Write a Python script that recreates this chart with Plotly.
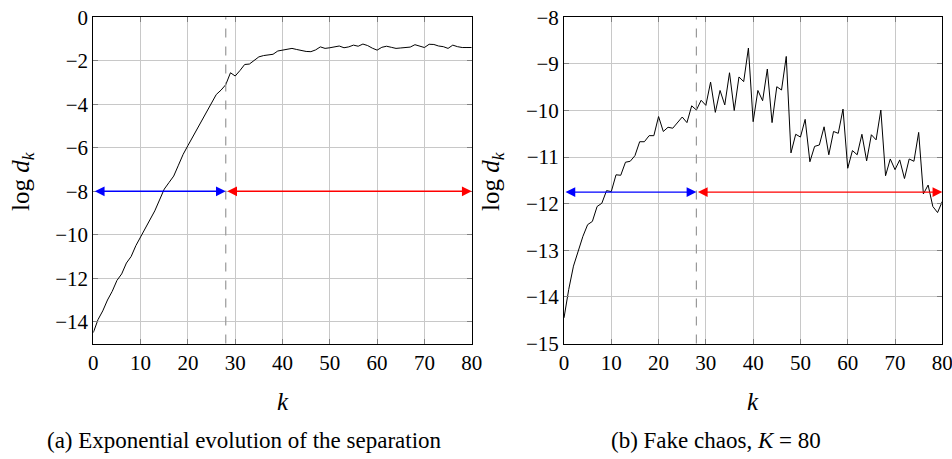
import plotly.graph_objects as go

# ---- data ----
k = list(range(81))
sep_a = [-14.5, -13.9, -13.5, -13.0, -12.6, -12.1, -11.8, -11.3, -11.0, -10.5,
         -10.1, -9.7, -9.3, -8.9, -8.4, -7.9, -7.6, -7.3, -6.8, -6.3,
         -5.9, -5.5, -5.1, -4.7, -4.3, -3.9, -3.55, -3.35, -3.1, -2.55,
         -2.7, -2.45, -2.17, -2.15, -2.0, -1.82, -1.76, -1.73, -1.70, -1.55,
         -1.50, -1.47, -1.43, -1.48, -1.53, -1.57, -1.58, -1.50, -1.36, -1.43,
         -1.40, -1.36, -1.32, -1.40, -1.36, -1.28, -1.33, -1.23, -1.30, -1.42,
         -1.51, -1.38, -1.33, -1.38, -1.43, -1.41, -1.40, -1.37, -1.26, -1.32,
         -1.39, -1.24, -1.25, -1.32, -1.35, -1.43, -1.28, -1.35, -1.39, -1.39,
         -1.39]
sep_b = [-14.45, -13.84, -13.34, -13.02, -12.70, -12.45, -12.38, -12.06, -11.99, -11.72,
         -11.74, -11.38, -11.39, -11.11, -11.09, -10.97, -10.67, -10.67, -10.54, -10.54,
         -10.13, -10.45, -10.36, -10.38, -10.26, -10.14, -10.26, -9.90, -9.99, -9.78,
         -9.89, -9.39, -10.04, -9.57, -9.88, -9.19, -10.0, -9.28, -9.38, -8.66,
         -10.24, -9.57, -9.79, -9.11, -10.26, -9.49, -9.56, -8.84, -10.91, -10.51,
         -10.57, -10.19, -11.1, -10.77, -10.74, -10.35, -10.95, -10.45, -10.49, -9.97,
         -11.24, -10.86, -10.95, -10.51, -11.08, -10.52, -10.63, -9.99, -11.40, -11.04,
         -11.27, -11.06, -11.46, -11.04, -11.09, -10.47, -11.79, -11.60, -12.06, -12.19,
         -11.95]
x_ticks = [0, 10, 20, 30, 40, 50, 60, 70, 80]
y_ticks_a = [0, -2, -4, -6, -8, -10, -12, -14]
y_ticks_b = [-8, -9, -10, -11, -12, -13, -14, -15]
k_split = 28
arrow_y_a = -8
arrow_y_b = -11.75
caption_a = "(a) Exponential evolution of the separation"
caption_b = "(b) Fake chaos, <i>K</i> = 80"

W, H = 952, 459
FONT = "Liberation Serif"

fig = go.Figure()
fig.add_trace(go.Scatter(x=k, y=sep_a, mode="lines", line=dict(color="black", width=1),
                         xaxis="x", yaxis="y", showlegend=False, hoverinfo="skip"))
fig.add_trace(go.Scatter(x=k, y=sep_b, mode="lines", line=dict(color="black", width=1),
                         xaxis="x2", yaxis="y2", showlegend=False, hoverinfo="skip"))

ax_common = dict(showline=True, linecolor="black", linewidth=1, mirror="ticks",
                 ticks="inside", ticklen=5, tickcolor="#808080", tickwidth=1,
                 showgrid=True, gridcolor="#c8c8c8", gridwidth=1, zeroline=False,
                 automargin=False, ticklabeloverflow="allow",
                 tickfont=dict(family=FONT, size=21, color="black"))

ydom = [1 - 343.5 / H, 1 - 17.3 / H]
fig.update_layout(
    width=W, height=H, margin=dict(l=0, r=0, t=0, b=0, autoexpand=False),
    plot_bgcolor="white", paper_bgcolor="white",
    xaxis=dict(domain=[93.3 / W, 471.7 / W], range=[0, 80], tickvals=x_ticks, anchor="y", **ax_common),
    yaxis=dict(domain=ydom, range=[-15, 0], tickvals=y_ticks_a, anchor="x", **ax_common),
    xaxis2=dict(domain=[564 / W, 942.3 / W], range=[0, 80], tickvals=x_ticks, anchor="y2", **ax_common),
    yaxis2=dict(domain=ydom, range=[-15, -8], tickvals=y_ticks_b, anchor="x2", **ax_common),
)

# dashed vertical split lines
for xr, yr in (("x", "y"), ("x2", "y2")):
    fig.add_shape(type="line", xref=xr, yref=yr + " domain", x0=k_split, x1=k_split, y0=0, y1=1,
                  line=dict(color="#999999", width=1.2, dash="dash"))

# arrows
def arrow(xr, yr, x0, x1, y, color):
    fig.add_annotation(x=x1, y=y, ax=x0, ay=y, xref=xr, yref=yr, axref=xr, ayref=yr,
                       showarrow=True, arrowhead=2, startarrowhead=2, arrowside="end+start",
                       arrowsize=1.5, startarrowsize=1.5, arrowwidth=1.3, arrowcolor=color,
                       text="", standoff=0, startstandoff=0)

arrow("x", "y", 0, k_split, arrow_y_a, "blue")
arrow("x", "y", k_split, 80, arrow_y_a, "red")
arrow("x2", "y2", 0, k_split, arrow_y_b, "blue")
arrow("x2", "y2", k_split, 80, arrow_y_b, "red")

# axis titles and captions
tfont = dict(family=FONT, size=25, color="black")
for xc, txt in ((22, "log <i>d</i><sub><i>k</i></sub>"), (492, "log <i>d</i><sub><i>k</i></sub>")):
    fig.add_annotation(x=xc / W, y=1 - 181 / H, xref="paper", yref="paper", text=txt,
                       textangle=-90, showarrow=False, font=tfont, xanchor="center", yanchor="middle")
for xc in (282.5, 753):
    fig.add_annotation(x=xc / W, y=1 - 401 / H, xref="paper", yref="paper", text="<i>k</i>",
                       showarrow=False, font=tfont, xanchor="center", yanchor="middle")
cfont = dict(family=FONT, size=23, color="black")
fig.add_annotation(x=245 / W, y=1 - 440 / H, xref="paper", yref="paper", text=caption_a,
                   showarrow=False, font=cfont, xanchor="center", yanchor="middle")
fig.add_annotation(x=716 / W, y=1 - 440 / H, xref="paper", yref="paper", text=caption_b,
                   showarrow=False, font=cfont, xanchor="center", yanchor="middle")

fig.write_html("out.html", config={"displayModeBar": False},
               post_script="document.body.style.margin='0';document.body.style.overflow='hidden';")
